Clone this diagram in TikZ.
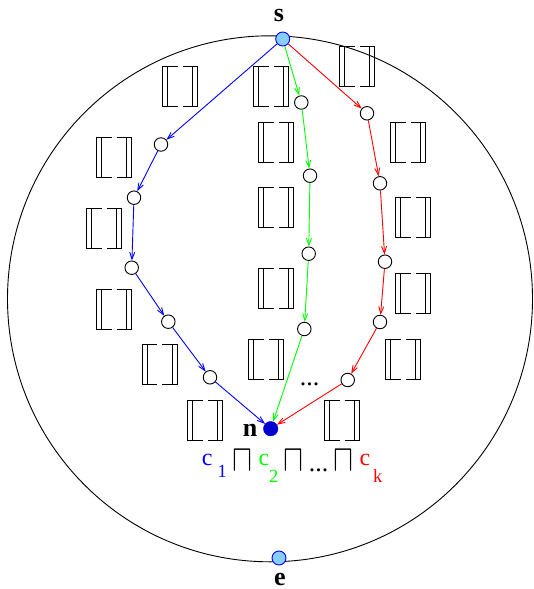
\documentclass[tikz,border=0pt]{standalone}
\usepackage{fontspec}
\setmainfont{Liberation Serif}
\usepackage{graphicx}
\usetikzlibrary{arrows.meta}
\definecolor{ltblue}{HTML}{87CEFF}
\definecolor{dkblue}{HTML}{0000D0}
\definecolor{pgreen}{RGB}{0,255,0}
\definecolor{pblue}{RGB}{0,0,255}
\definecolor{pred}{RGB}{255,0,0}
\begin{document}
\begin{tikzpicture}[x=1pt,y=-1pt,
  vtx/.style={circle,draw=black,fill=white,line width=0.9pt,minimum size=13.5pt,inner sep=0pt},
  term/.style={circle,draw=pblue,fill=ltblue,line width=0.9pt,minimum size=14pt,inner sep=0pt},
  sink/.style={circle,draw=dkblue,fill=dkblue,minimum size=14.5pt,inner sep=0pt},
  lbl/.style={font=\fontsize{26}{26}\selectfont\bfseries,inner sep=0pt,anchor=base},
  ctext/.style={font=\fontsize{24}{24}\selectfont,inner sep=0pt,anchor=base},
  subtext/.style={font=\fontsize{18.5}{18.5}\selectfont,inner sep=0pt,anchor=base},
  captext/.style={inner sep=0pt,anchor=base},
  dotstext/.style={font=\fontsize{26}{26}\selectfont,inner sep=0pt,anchor=base},
  edge/.style={line width=0.9pt,-{Straight Barb[length=7pt,width=5pt]}},
  bracket/.style={line width=0.9pt,black},
  dbr/.pic={
    \draw[bracket] (-2.5,-20) -- (-17.5,-20) -- (-17.5,20) -- (-2.5,20);
    \draw[bracket] (-12.5,-20) -- (-12.5,20);
    \draw[bracket] (2.5,-20) -- (17.5,-20) -- (17.5,20) -- (2.5,20);
    \draw[bracket] (12.5,-20) -- (12.5,20);
  }]
\useasboundingbox (0,0) rectangle (533,589);

% outer circle
\draw[line width=0.9pt] (270,298.8) ellipse [x radius=262.5pt, y radius=263pt];

% brackets
\foreach \bx/\by in {180.3/86, 271.3/86, 357/66,
  114.2/157.3, 276.3/142.3, 408.3/142.3,
  104/228, 276.3/207.7, 413.3/217.8,
  114/309, 276.3/288.5, 413.3/293.7,
  159.7/364.7, 266.3/359.7, 403.3/359.7,
  205.3/420.8, 342.3/420.8}
  \pic at (\bx,\by) {dbr};

% vertices
\node[term] (s) at (282.7,39) {};
\node[term] (e) at (279,558) {};
\node[sink] (n) at (270.7,428.7) {};

\node[vtx] (b1) at (161,144.5) {};
\node[vtx] (b2) at (134,197.7) {};
\node[vtx] (b3) at (131.7,267.7) {};
\node[vtx] (b4) at (168.3,321.7) {};
\node[vtx] (b5) at (210,377.3) {};

\node[vtx] (g1) at (301.3,102.5) {};
\node[vtx] (g2) at (310,175.7) {};
\node[vtx] (g3) at (308.7,253.7) {};
\node[vtx] (g4) at (304.3,329) {};

\node[vtx] (r1) at (367,113.3) {};
\node[vtx] (r2) at (380,183.3) {};
\node[vtx] (r3) at (385,261.7) {};
\node[vtx] (r4) at (380,322) {};
\node[vtx] (r5) at (347.7,380) {};

% paths
\draw[edge,pblue] (s) -- (b1);
\draw[edge,pblue] (b1) -- (b2);
\draw[edge,pblue] (b2) -- (b3);
\draw[edge,pblue] (b3) -- (b4);
\draw[edge,pblue] (b4) -- (b5);
\draw[edge,pblue] (b5) -- (n);

\draw[edge,pgreen] (s) -- (g1);
\draw[edge,pgreen] (g1) -- (g2);
\draw[edge,pgreen] (g2) -- (g3);
\draw[edge,pgreen] (g3) -- (g4);
\draw[edge,pgreen] (g4) -- (n);

\draw[edge,pred] (s) -- (r1);
\draw[edge,pred] (r1) -- (r2);
\draw[edge,pred] (r2) -- (r3);
\draw[edge,pred] (r3) -- (r4);
\draw[edge,pred] (r4) -- (r5);
\draw[edge,pred] (r5) -- (n);

% labels
\node[lbl] (ls) at (279,21.7) {s};
\node[lbl] (le) at (280,585.5) {e};
\node[lbl] (ln) at (250,436) {n};
\node[dotstext] (dots1) at (309.5,385.8) {...};

% bottom formula
\node[ctext,text=pblue] (c1) at (207.3,465) {c};
\node[subtext,text=pblue] (i1) at (222.3,477.7) {1};
\node[captext] (m1) at (242.5,471.7) {\resizebox{20pt}{21pt}{$\sqcap$}};
\node[ctext,text=pgreen] (c2) at (264,465) {c};
\node[subtext,text=pgreen] (i2) at (273.7,482.3) {2};
\node[captext] (m2) at (293.7,471.7) {\resizebox{20pt}{21pt}{$\sqcap$}};
\node[dotstext] (dots2) at (318.7,471.5) {...};
\node[captext] (m3) at (343.3,471.7) {\resizebox{20pt}{21pt}{$\sqcap$}};
\node[ctext,text=pred] (c3) at (365,465) {c};
\node[subtext,text=pred] (ik) at (377.8,482.3) {k};
\end{tikzpicture}
\end{document}
